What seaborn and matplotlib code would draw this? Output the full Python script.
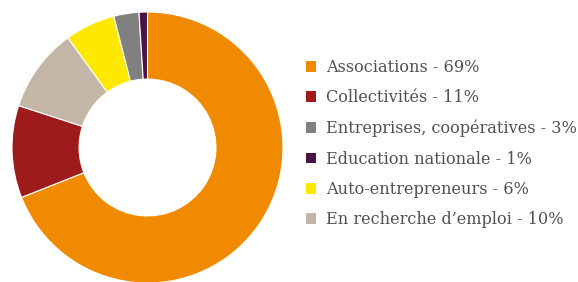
import matplotlib
matplotlib.use("Agg")
import matplotlib.pyplot as plt
import seaborn as sns
from matplotlib.patches import Patch

sns.set_theme(style="white")
plt.rcParams['font.family'] = ['DejaVu Serif']

# Legend order
categories = ["Associations", "Collectivités", "Entreprises, coopératives",
              "Education nationale", "Auto-entrepreneurs", "En recherche d’emploi"]
values = [69, 11, 3, 1, 6, 10]
colors = ["#F08A00", "#9E1B1B", "#808080", "#4A1245", "#FFE800", "#C4B6A6"]
# Order of slices clockwise from 12 o'clock
pie_order = [0, 1, 5, 4, 2, 3]

W, H = 578, 282
fig = plt.figure(figsize=(W / 100, H / 100), dpi=100)
fig.patch.set_facecolor("white")

cx, cy, r = 147.5, 282 - 147.5, 135.5
ax = fig.add_axes([(cx - r) / W, (cy - r) / H, 2 * r / W, 2 * r / H])
ax.pie([values[i] for i in pie_order],
       colors=[colors[i] for i in pie_order],
       startangle=90, counterclock=False, radius=1,
       wedgeprops=dict(width=0.495, edgecolor="white", linewidth=0.8))
ax.set_xlim(-1, 1)
ax.set_ylim(-1, 1)
ax.set_aspect("equal")
ax.axis("off")

handles = [Patch(facecolor=c, edgecolor="none") for c in colors]
labels = [f"{c} - {v}%" for c, v in zip(categories, values)]
leg = fig.legend(handles, labels, loc="upper left",
                 bbox_to_anchor=(306 / W, 1 - 59 / H),
                 frameon=False, fontsize=11.6, labelcolor="#505050",
                 handlelength=0.62, handleheight=0.62, handletextpad=0.62,
                 labelspacing=0.83, borderaxespad=0, borderpad=0)

fig.savefig("out.png", dpi=100, facecolor="white")
